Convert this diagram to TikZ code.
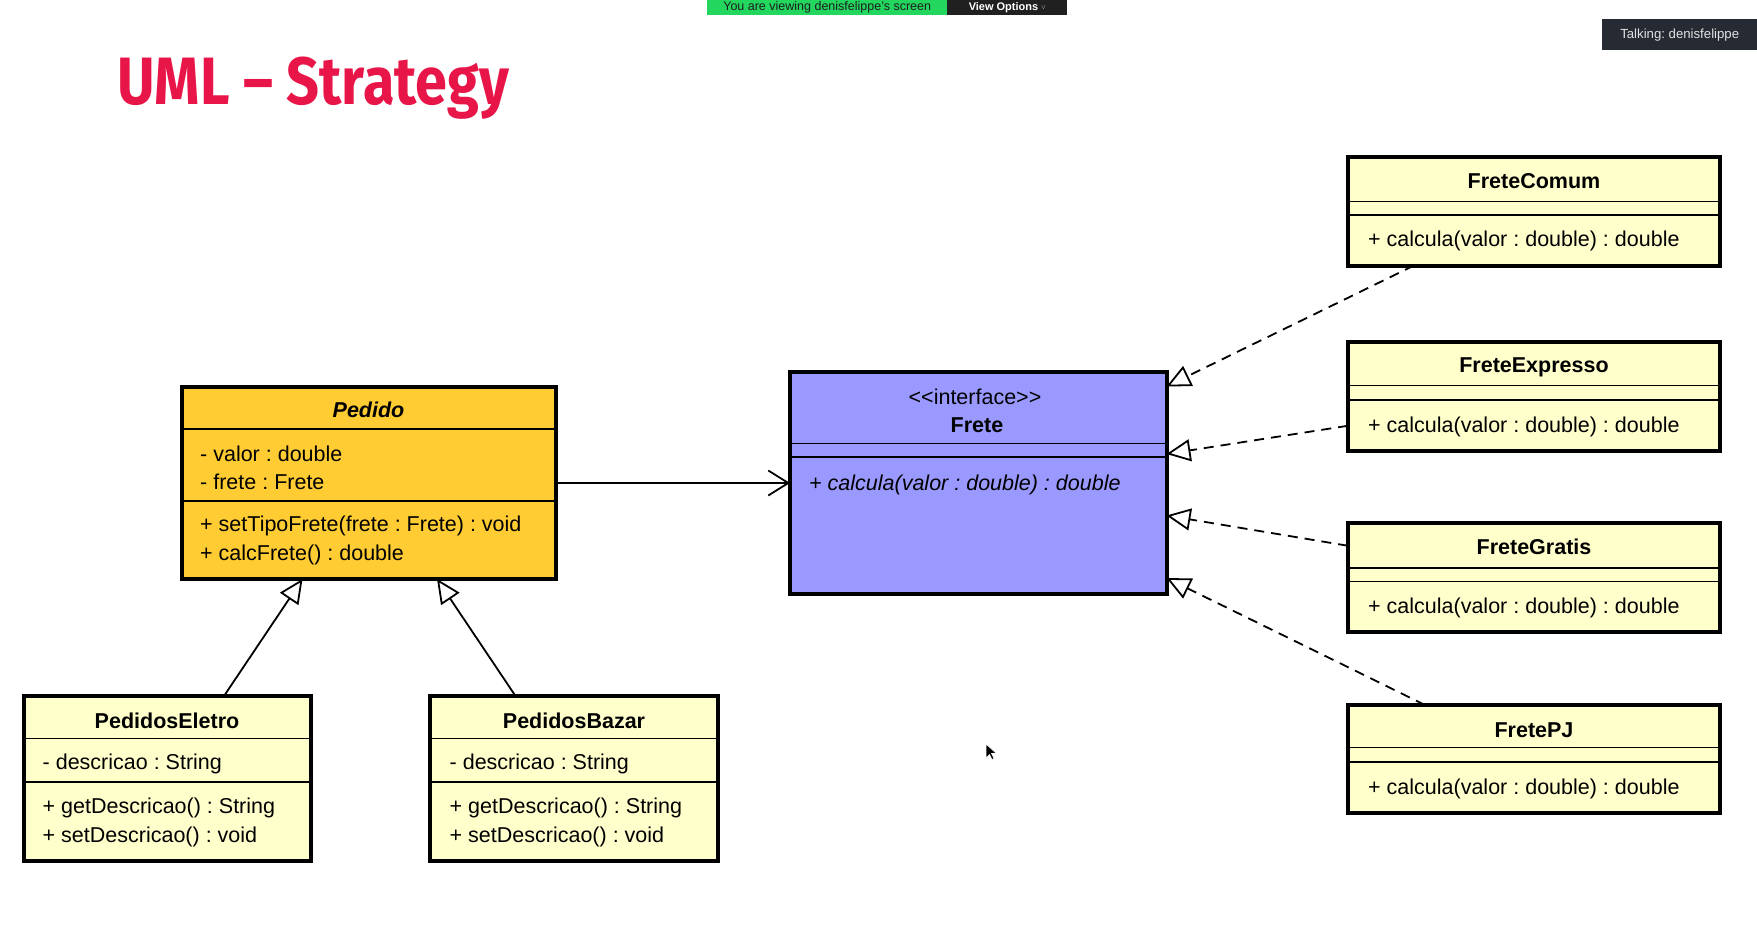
\documentclass[tikz,border=0pt]{standalone}
\usepackage{fontspec}
\setmainfont{Liberation Sans}
\newfontfamily\titlefont[FakeStretch=0.86]{Fira Sans}
\usetikzlibrary{arrows.meta}
\frenchspacing

\begin{document}
\begin{tikzpicture}[x=1pt, y=-1pt,
    classbox/.style={draw, line width=4pt, inner sep=0pt, outer sep=0pt, anchor=north west},
    compline/.style={line width=1.6pt},
    member/.style={anchor=west, inner sep=0pt, text height=15.5pt, text depth=0pt, font=\fontsize{21.5}{26}\selectfont},
    classname/.style={member, anchor=center, font=\fontsize{21.5}{26}\selectfont\bfseries},
    inherit/.style={line width=1.8pt, -{Triangle[open, length=24pt, width=22pt, line width=1.8pt]}},
    realize/.style={inherit, dash pattern=on 10pt off 7pt},
    assoc/.style={line width=1.8pt, -{Straight Barb[length=20pt, width=25pt, line width=1.8pt]}}]

        \useasboundingbox (0,0) rectangle (1757,937);

        % Screen sharing overlay
        \node[anchor=north west, minimum width=240pt, minimum height=15pt, inner sep=0pt,
              fill={rgb,255:red,35; green,214; blue,94}, font=\fontsize{12.5}{13}\selectfont,
              text={rgb,255:red,30; green,30; blue,30}] (viewing) at (707,0) {You are viewing denisfelippe's screen};
        \node[anchor=north west, minimum width=120pt, minimum height=15pt, inner sep=0pt,
              fill={rgb,255:red,32; green,32; blue,32}, font=\fontsize{11}{12}\selectfont\bfseries,
              text=white] (options) at (947,0) {View Options \raisebox{.2ex}{\scalebox{.6}{$\vee$}}};
        \node[anchor=north west, minimum width=155pt, minimum height=31pt, inner sep=0pt,
              fill={rgb,255:red,38; green,43; blue,51}, font=\fontsize{13.2}{15}\selectfont,
              text={rgb,255:red,225; green,225; blue,225}] (talking) at (1602,19) {Talking: denisfelippe};

        % Title
        \node[anchor=base west, inner sep=0pt, text={rgb,255:red,232; green,22; blue,72},
              font=\titlefont\bfseries\fontsize{67}{70}\selectfont] (title) at (117,104) {UML – Strategy};

        % Pedido
        \node[classbox, minimum width=374pt, minimum height=192pt, fill={rgb,255:red,255; green,204; blue,51}] (pedido) at (181.5,387) {};
        \draw[compline] (181.5,429) -- (555.5,429);
        \draw[compline] (181.5,501) -- (555.5,501);
        \node[classname, font=\fontsize{21.5}{26}\selectfont\bfseries\itshape] (pedidoname) at (368.5,410) {Pedido};
        \node[member] (pedidovalor) at (200,454) {- valor : double};
        \node[member] (pedidofrete) at (200,482) {- frete : Frete};
        \node[member] (pedidoset) at (200,524) {+ setTipoFrete(frete : Frete) : void};
        \node[member] (pedidocalc) at (200,553) {+ calcFrete() : double};

        % PedidosEletro
        \node[classbox, minimum width=287pt, minimum height=165pt, fill={rgb,255:red,255; green,255; blue,204}] (eletro) at (23.5,696) {};
        \draw[compline] (23.5,738.5) -- (310.5,738.5);
        \draw[compline] (23.5,782) -- (310.5,782);
        \node[classname] (eletroname) at (167,720.5) {PedidosEletro};
        \node[member] (eletrodesc) at (42.5,762) {- descricao : String};
        \node[member] (eletroget) at (42.5,806) {+ getDescricao() : String};
        \node[member] (eletroset) at (42.5,835) {+ setDescricao() : void};

        % PedidosBazar
        \node[classbox, minimum width=288pt, minimum height=165pt, fill={rgb,255:red,255; green,255; blue,204}] (bazar) at (430,696) {};
        \draw[compline] (430,738.5) -- (718,738.5);
        \draw[compline] (430,782) -- (718,782);
        \node[classname] (bazarname) at (574,720.5) {PedidosBazar};
        \node[member] (bazardesc) at (449.5,762) {- descricao : String};
        \node[member] (bazarget) at (449.5,806) {+ getDescricao() : String};
        \node[member] (bazarset) at (449.5,835) {+ setDescricao() : void};

        % Frete interface
        \node[classbox, minimum width=376.5pt, minimum height=222pt, fill={rgb,255:red,153; green,153; blue,255}] (frete) at (790,372) {};
        \draw[compline] (790,443.5) -- (1166.5,443.5);
        \draw[compline] (790,457) -- (1166.5,457);
        \node[member, anchor=center, font=\fontsize{21.5}{26}\selectfont] (fretestereo) at (975,397) {<\kern0pt<interface>\kern0pt>};
        \node[classname] (fretename) at (977,425) {Frete};
        \node[member, font=\fontsize{21.5}{26}\selectfont\itshape] (fretecalc) at (809,483) {+ calcula(valor : double) : double};

        % FreteComum
        \node[classbox, minimum width=372pt, minimum height=108.5pt, fill={rgb,255:red,255; green,255; blue,204}] (fcomum) at (1348,157) {};
        \draw[compline] (1348,201.5) -- (1720,201.5);
        \draw[compline] (1348,215) -- (1720,215);
        \node[classname] (fcomumname) at (1534,180.5) {FreteComum};
        \node[member] (fcomumcalc) at (1368,239) {+ calcula(valor : double) : double};

        % FreteExpresso
        \node[classbox, minimum width=372pt, minimum height=108.5pt, fill={rgb,255:red,255; green,255; blue,204}] (fexpresso) at (1348,342) {};
        \draw[compline] (1348,385.5) -- (1720,385.5);
        \draw[compline] (1348,400) -- (1720,400);
        \node[classname] (fexpressoname) at (1534,365) {FreteExpresso};
        \node[member] (fexpressocalc) at (1368,425) {+ calcula(valor : double) : double};

        % FreteGratis
        \node[classbox, minimum width=372pt, minimum height=108.5pt, fill={rgb,255:red,255; green,255; blue,204}] (fgratis) at (1348,523) {};
        \draw[compline] (1348,568) -- (1720,568);
        \draw[compline] (1348,581.5) -- (1720,581.5);
        \node[classname] (fgratisname) at (1534,547) {FreteGratis};
        \node[member] (fgratiscalc) at (1368,606) {+ calcula(valor : double) : double};

        % FretePJ
        \node[classbox, minimum width=372pt, minimum height=108pt, fill={rgb,255:red,255; green,255; blue,204}] (fpj) at (1348,705) {};
        \draw[compline] (1348,747.5) -- (1720,747.5);
        \draw[compline] (1348,762) -- (1720,762);
        \node[classname] (fpjname) at (1534,729.5) {FretePJ};
        \node[member] (fpjcalc) at (1368,787) {+ calcula(valor : double) : double};

        % Relations
        \draw[assoc] (pedido.east) -- (frete.west);
        \draw[inherit] ([xshift=57pt]eletro.north) -- ([xshift=-66pt]pedido.south);
        \draw[inherit] ([xshift=-58.5pt]bazar.north) -- ([xshift=68.5pt]pedido.south);
        \draw[realize] ([xshift=66pt]fcomum.south west) -- ([yshift=-14.5pt]frete.north east);
        \draw[realize] ([yshift=-29.5pt]fexpresso.west) -- ([yshift=-82pt]frete.north east);
        \draw[realize] ([yshift=31.5pt]fgratis.west) -- ([yshift=-143.5pt]frete.north east);
        \draw[realize] ([xshift=77pt]fpj.north west) -- ([yshift=-206pt]frete.north east);

        % Mouse pointer
        \filldraw[fill=black, draw=white, line width=0.6pt] (986,744) -- ++(0,14) -- ++(3.5,-3.5) -- ++(2.5,5) -- ++(2,-1) -- ++(-2.5,-5) -- ++(5,0) -- cycle;

    \end{tikzpicture}
\end{document}
